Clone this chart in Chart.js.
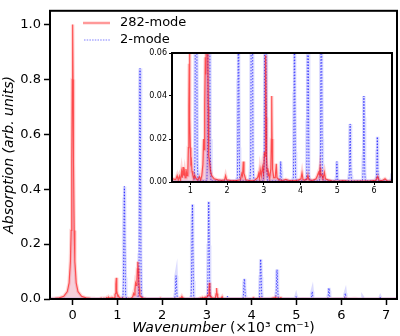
<!DOCTYPE html>
<html>
<head>
<meta charset="utf-8">
<script src="https://cdn.jsdelivr.net/npm/chart.js@4/dist/chart.umd.min.js"></script>
<style>
  html, body { margin: 0; padding: 0; background: #fff; }
  #wrap { position: relative; width: 400px; height: 336px; }
  #main { position: absolute; left: 0; top: 0; }
  #inset { position: absolute; left: 145px; top: 45px; }
</style>
</head>
<body>
<div id="wrap">
  <canvas id="main" width="400" height="336"></canvas>
  <canvas id="inset" width="253" height="155"></canvas>
</div>
<script>
// Datos (x en 10^3 cm-1)
const seriesNames = ["282-mode", "2-mode"];
const xTicks = [0, 1, 2, 3, 4, 5, 6, 7];
const yTicks = [0, 0.2, 0.4, 0.6, 0.8, 1.0];
const insetXTicks = [1, 2, 3, 4, 5, 6];
const insetYTicks = [0, 0.02, 0.04, 0.06];

// 282-mode
const redWave = [
  -0.55, -0.4, -0.3, -0.2, -0.12, -0.08, -0.05, -0.035, -0.02, -0.01, 0, 0.01, 0.02, 0.035, 0.05, 0.08, 0.12, 0.2, 0.3, 0.4, 0.5, 0.6,
  0.64, 0.67, 0.70, 0.73, 0.76, 0.78, 0.80, 0.82, 0.84, 0.86, 0.88, 0.91, 0.93,
  0.945, 0.955, 0.962, 0.968, 0.975, 0.982, 0.99, 1.0, 1.015, 1.03, 1.045, 1.07, 1.1, 1.12, 1.16, 1.2, 1.25, 1.28, 1.31,
  1.34, 1.36, 1.375, 1.39, 1.405, 1.42, 1.435, 1.445, 1.455, 1.465, 1.475, 1.49, 1.5, 1.52, 1.55, 1.58, 1.65,
  1.75, 1.85, 1.93, 1.96, 1.99, 2.1, 2.25, 2.36, 2.40, 2.42, 2.44, 2.46, 2.48, 2.51, 2.6,
  2.75, 2.83, 2.86, 2.88, 2.9, 2.93, 2.96, 2.99, 3.02, 3.035, 3.045, 3.055, 3.065, 3.075, 3.09, 3.105, 3.12, 3.135, 3.16, 3.19, 3.205, 3.215, 3.225, 3.24, 3.27, 3.31, 3.34, 3.36, 3.42, 3.5,
  3.6, 3.7, 3.85, 3.95, 4.01, 4.04, 4.07, 4.12, 4.17, 4.2, 4.23, 4.33, 4.42, 4.46, 4.49, 4.51, 4.53, 4.55, 4.58, 4.61, 4.65, 4.68, 4.75,
  4.85, 5.0, 5.15, 5.35, 5.6, 5.9, 6.05, 6.1, 6.14, 6.22, 6.3, 6.36, 6.6, 6.9, 7.3
];
const redAbs = [
  0.0013, 0.0025, 0.0044, 0.0099, 0.027, 0.059, 0.138, 0.25, 0.5, 0.8, 1.0, 0.8, 0.5, 0.25, 0.138, 0.059, 0.027, 0.0099, 0.0044, 0.0025, 0.0016, 0.0011,
  0.003, 0.001, 0.0028, 0.001, 0.005, 0.002, 0.007, 0.003, 0.005, 0.002, 0.006, 0.003, 0.005,
  0.016, 0.02, 0.035, 0.055, 0.077, 0.055, 0.03, 0.016, 0.009, 0.01, 0.005, 0.003, 0.002, 0.003, 0.0015, 0.001, 0.0025, 0.001, 0.003,
  0.008, 0.02, 0.015, 0.035, 0.058, 0.05, 0.07, 0.11, 0.136, 0.11, 0.07, 0.035, 0.012, 0.01, 0.005, 0.003, 0.0015,
  0.001, 0.0008, 0.001, 0.003, 0.001, 0.0006, 0.0006, 0.001, 0.004, 0.003, 0.0095, 0.004, 0.003, 0.001, 0.0007,
  0.0008, 0.002, 0.004, 0.002, 0.006, 0.003, 0.007, 0.004, 0.014, 0.012, 0.03, 0.059, 0.03, 0.012, 0.005, 0.0065, 0.003, 0.004, 0.002, 0.006, 0.02, 0.04, 0.02, 0.006, 0.002, 0.002, 0.0085, 0.002, 0.001, 0.0007,
  0.0012, 0.0006, 0.0006, 0.001, 0.0015, 0.0043, 0.001, 0.001, 0.0012, 0.003, 0.001, 0.0008, 0.0015, 0.003, 0.0045, 0.0035, 0.0064, 0.003, 0.0035, 0.0015, 0.0045, 0.0015, 0.001,
  0.0005, 0.0003, 0.0006, 0.0003, 0.0004, 0.0005, 0.0008, 0.0025, 0.0008, 0.0006, 0.0015, 0.0005, 0.0004, 0.0003, 0.0002
];

// 2-mode
const blueWave = [
  -0.55, 1.1, 1.125, 1.135, 1.143, 1.15, 1.155, 1.16, 1.167, 1.175, 1.185, 1.21, 1.45, 1.475, 1.485, 1.493, 1.5, 1.505, 1.51, 1.517, 1.525, 1.535, 1.56,
  2.25, 2.28, 2.29, 2.298, 2.305, 2.31, 2.315, 2.322, 2.33, 2.34, 2.37,
  2.62, 2.645, 2.655, 2.663, 2.67, 2.675, 2.68, 2.687, 2.695, 2.705, 2.73,
  2.985, 3.01, 3.02, 3.028, 3.035, 3.04, 3.045, 3.052, 3.06, 3.07, 3.1,
  3.43, 3.445, 3.452, 3.46, 3.468, 3.475, 3.49,
  3.78, 3.805, 3.815, 3.823, 3.83, 3.835, 3.84, 3.847, 3.855, 3.865, 3.89,
  4.145, 4.17, 4.18, 4.188, 4.195, 4.2, 4.205, 4.212, 4.22, 4.23, 4.255,
  4.51, 4.535, 4.545, 4.553, 4.56, 4.565, 4.57, 4.577, 4.585, 4.595, 4.62,
  4.96, 4.975, 4.982, 4.99, 4.998, 5.005, 5.02,
  5.31, 5.325, 5.335, 5.343, 5.35, 5.357, 5.365, 5.375, 5.39,
  5.685, 5.7, 5.71, 5.718, 5.725, 5.732, 5.74, 5.75, 5.765,
  6.05, 6.065, 6.075, 6.083, 6.09, 6.097, 6.105, 6.115, 6.13,
  6.46, 6.477, 6.485, 6.493, 6.51,
  6.845, 6.862, 6.87, 6.878, 6.895, 7.3
];
const blueAbs = [
  0, 0, 0.01, 0.078, 0.225, 0.37, 0.41, 0.37, 0.225, 0.078, 0.01, 0.0005, 0.0005, 0.02, 0.16, 0.46, 0.76, 0.84, 0.76, 0.46, 0.16, 0.02, 0.0005,
  0.0005, 0.002, 0.016, 0.047, 0.077, 0.085, 0.077, 0.047, 0.016, 0.002, 0.0005,
  0.0005, 0.008, 0.066, 0.19, 0.31, 0.345, 0.31, 0.19, 0.066, 0.008, 0.0005,
  0.0005, 0.0085, 0.067, 0.195, 0.32, 0.355, 0.32, 0.195, 0.067, 0.0085, 0.0005,
  0.0005, 0.002, 0.005, 0.0095, 0.005, 0.002, 0.0005,
  0.0005, 0.002, 0.014, 0.041, 0.067, 0.074, 0.067, 0.041, 0.014, 0.002, 0.0005,
  0.0005, 0.0035, 0.028, 0.08, 0.13, 0.145, 0.13, 0.08, 0.028, 0.0035, 0.0005,
  0.0005, 0.0026, 0.02, 0.059, 0.096, 0.107, 0.096, 0.059, 0.02, 0.0026, 0.0005,
  0.0005, 0.002, 0.005, 0.0095, 0.005, 0.002, 0.0005,
  0.0005, 0.003, 0.008, 0.02, 0.027, 0.02, 0.008, 0.003, 0.0005,
  0.0005, 0.004, 0.012, 0.03, 0.04, 0.03, 0.012, 0.004, 0.0005,
  0.0005, 0.002, 0.006, 0.015, 0.021, 0.015, 0.006, 0.002, 0.0005,
  0.0003, 0.002, 0.004, 0.002, 0.0003,
  0.0003, 0.003, 0.006, 0.003, 0.0003, 0
];

function puntos(xs, ys) {
  if (xs.length !== ys.length) throw new Error("largo distinto " + xs.length + " " + ys.length);
  return xs.map((x, i) => ({ x: x, y: ys[i] }));
}
const redPts = puntos(redWave, redAbs);
const bluePts = puntos(blueWave, blueAbs);

Chart.defaults.font.family = "'DejaVu Sans', sans-serif";
Chart.defaults.color = "#000";

function makeDatasets() {
  const base = { pointRadius: 0, tension: 0, clip: 0, fill: false };
  return [
    Object.assign({}, base, { label: seriesNames[0], data: redPts, borderColor: "rgba(255,0,0,0.6)", borderWidth: 1.2,
      backgroundColor: "rgba(215,40,90,0.22)", fill: "origin", order: 0 }),
    Object.assign({}, base, { data: redPts, borderColor: "rgba(255,0,0,0.16)", borderWidth: 3.5, order: 1 }),
    Object.assign({}, base, { label: seriesNames[1], data: bluePts, borderColor: "rgba(30,30,255,0.75)", borderWidth: 1,
      borderDash: [1.5, 1.5], order: 2 }),
    Object.assign({}, base, { data: bluePts, borderColor: "rgba(60,60,255,0.18)", borderWidth: 3.5, order: 3 }),
  ];
}

// marco negro alrededor del area
function framePlugin(w) {
  return {
    id: "marco",
    afterDatasetsDraw(chart) {
      const a = chart.chartArea, c = chart.ctx;
      c.save();
      c.strokeStyle = "#000";
      c.lineWidth = w;
      c.strokeRect(a.left, a.top, a.right - a.left, a.bottom - a.top);
      c.restore();
    }
  };
}

const leyendaPlugin = {
  id: "leyenda",
  afterDraw(chart) {
    const c = chart.ctx;
    c.save();
    c.font = "13px 'DejaVu Sans'";
    c.textBaseline = "middle";
    c.fillStyle = "#000";
    // 282-mode
    c.strokeStyle = "rgba(255,0,0,0.4)";
    c.lineWidth = 2.5;
    c.beginPath(); c.moveTo(83, 23); c.lineTo(110, 23); c.stroke();
    c.fillText(seriesNames[0], 120, 23);
    // 2-mode
    c.strokeStyle = "rgba(40,40,255,0.6)";
    c.lineWidth = 1.2;
    c.setLineDash([1.5, 1.2]);
    c.beginPath(); c.moveTo(84, 40); c.lineTo(110, 40); c.stroke();
    c.setLineDash([]);
    c.fillText(seriesNames[1], 120, 40);

    // titulo eje x: "Wavenumber" en cursiva
    const a = chart.chartArea;
    const t1 = "Wavenumber", t2 = " (\u00d710\u00b3 cm\u207b\u00b9)";
    c.font = "italic 14px 'DejaVu Sans'";
    const w1 = c.measureText(t1).width;
    c.font = "14px 'DejaVu Sans'";
    const w2 = c.measureText(t2).width;
    let x0 = (a.left + a.right) / 2 - (w1 + w2) / 2;
    c.textAlign = "left";
    c.font = "italic 14px 'DejaVu Sans'";
    c.fillText(t1, x0, 328);
    c.font = "14px 'DejaVu Sans'";
    c.fillText(t2, x0 + w1, 328);
    c.restore();
  }
};

const fondoBlanco = {
  id: "fondo",
  beforeDatasetsDraw(chart) {
    const a = chart.chartArea, c = chart.ctx;
    c.save();
    c.fillStyle = "#fff";
    c.fillRect(a.left, a.top, a.right - a.left, a.bottom - a.top);
    c.restore();
  }
};

function grid(len, w) {
  return { display: true, drawOnChartArea: false, drawTicks: true, tickLength: len, tickWidth: w, tickColor: "#000" };
}

// Grafico principal
new Chart(document.getElementById("main"), {
  type: "line",
  data: { datasets: makeDatasets() },
  options: {
    responsive: false,
    animation: false,
    layout: { padding: { top: 3, right: 3, left: 0, bottom: 0 } },
    plugins: { legend: { display: false }, tooltip: { enabled: false } },
    scales: {
      x: {
        type: "linear", min: -0.506, max: 7.245,
        afterBuildTicks: (s) => { s.ticks = xTicks.map((v) => ({ value: v })); },
        afterFit: (s) => { s.height = 37; },
        ticks: { font: { size: 13 }, padding: 3, autoSkip: false, maxRotation: 0, callback: (v) => String(v) },
        grid: grid(6, 1.5),
        border: { display: false },
      },
      y: {
        type: "linear", min: 0, max: 1.05,
        afterBuildTicks: (s) => { s.ticks = yTicks.map((v) => ({ value: v })); },
        afterFit: (s) => { s.width = 50; },
        ticks: { font: { size: 13 }, padding: 3, autoSkip: false, callback: (v) => Number(v).toFixed(1) },
        grid: grid(6, 1.5),
        border: { display: false },
        title: { display: true, text: "Absorption (arb. units)", font: { size: 14, style: "italic" }, padding: { top: 1, bottom: 0 } },
      },
    },
  },
  plugins: [framePlugin(2), leyendaPlugin],
});

// Recuadro (inset)
new Chart(document.getElementById("inset"), {
  type: "line",
  data: { datasets: makeDatasets() },
  options: {
    responsive: false,
    animation: false,
    layout: { padding: { top: 8, right: 6, left: 0, bottom: 0 } },
    plugins: { legend: { display: false }, tooltip: { enabled: false } },
    scales: {
      x: {
        type: "linear", min: 0.5, max: 6.49,
        afterBuildTicks: (s) => { s.ticks = insetXTicks.map((v) => ({ value: v })); },
        afterFit: (s) => { s.height = 18; },
        ticks: { font: { size: 8 }, padding: 1, autoSkip: false, maxRotation: 0, callback: (v) => String(v) },
        grid: grid(3, 1),
        border: { display: false },
      },
      y: {
        type: "linear", min: 0, max: 0.06,
        afterBuildTicks: (s) => { s.ticks = insetYTicks.map((v) => ({ value: v })); },
        afterFit: (s) => { s.width = 27; },
        ticks: { font: { size: 8 }, padding: 2, autoSkip: false, callback: (v) => Number(v).toFixed(2) },
        grid: grid(3, 1),
        border: { display: false },
      },
    },
  },
  plugins: [fondoBlanco, framePlugin(2)],
});
</script>
</body>
</html>
